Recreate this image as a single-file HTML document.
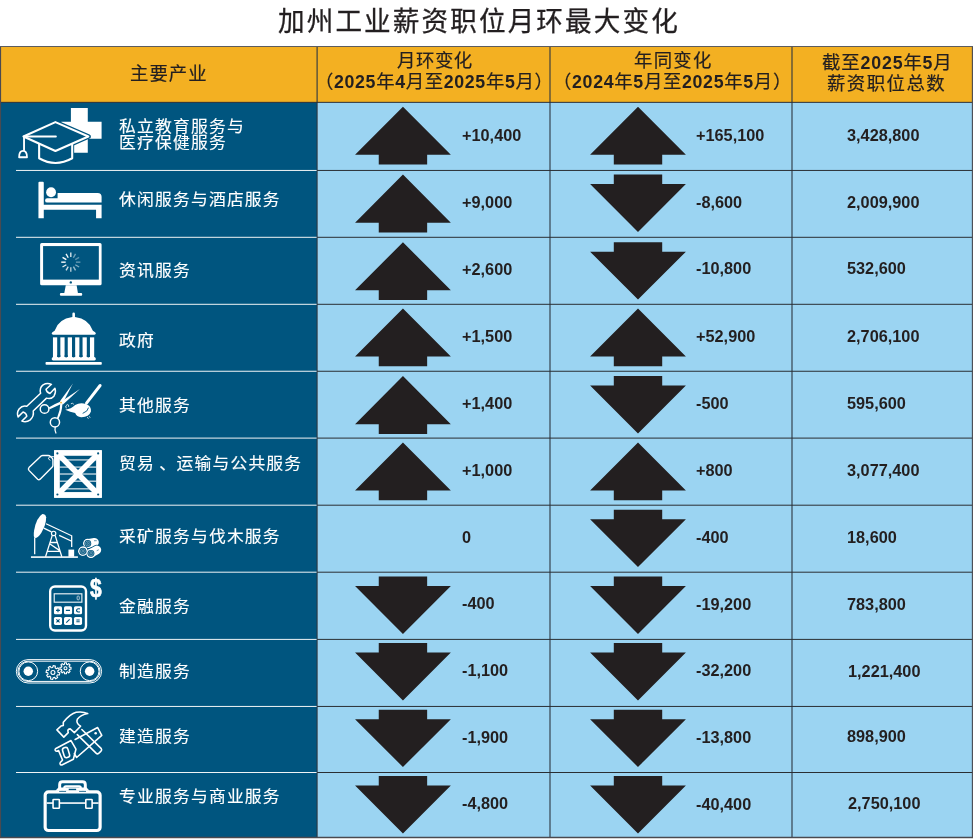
<!DOCTYPE html>
<html lang="zh-CN"><head><meta charset="utf-8"><title>加州工业薪资职位月环最大变化</title>
<style>
html,body{margin:0;padding:0;background:#fff;}
body{width:973px;height:839px;position:relative;overflow:hidden;font-family:"Liberation Sans","Noto Sans CJK SC",sans-serif;color:#231F20;}
#bg{position:absolute;left:0;top:0;width:973px;height:839px;}
.t{position:absolute;white-space:nowrap;line-height:1;margin:0;padding:0;transform-origin:0 0;transform:rotate(0.001deg);}
h1.t{font-weight:400;font-size:28.6px;-webkit-text-stroke:0.3px #231F20;}
.h{font-size:18.4px;font-weight:400;-webkit-text-stroke:0.2px #231F20;}
.h b{font-size:17.8px;font-weight:700;-webkit-text-stroke:0;}
.lab{color:#fff;font-size:16.8px;font-weight:400;-webkit-text-stroke:0.15px #fff;}.lab i{font-style:normal;letter-spacing:4.7px;position:relative;left:4.2px;}
.num{font-weight:700;font-size:16.3px;}
</style></head><body>

<svg id="bg" width="973" height="839" viewBox="0 0 973 839">
<rect x="0" y="46.5" width="973" height="55.849999999999994" fill="#F3B022"/>
<rect x="0" y="102.35" width="317.1" height="735.05" fill="#00557F"/>
<rect x="317.1" y="102.35" width="655.9" height="735.05" fill="#9BD4F2"/>
<g stroke="#2c3640" stroke-width="1.1" fill="none">
<line x1="317.1" y1="46.5" x2="317.1" y2="837.4"/>
<line x1="550.0" y1="46.5" x2="550.0" y2="837.4"/>
<line x1="792.0" y1="46.5" x2="792.0" y2="837.4"/>
</g>
<g stroke="#2a2e33" stroke-width="1.0" fill="none">
<line x1="0" y1="102.35" x2="973" y2="102.35"/>
<line x1="317.1" y1="170.45" x2="973" y2="170.45"/>
<line x1="317.1" y1="237.3" x2="973" y2="237.3"/>
<line x1="317.1" y1="304.3" x2="973" y2="304.3"/>
<line x1="317.1" y1="371.25" x2="973" y2="371.25"/>
<line x1="317.1" y1="438.1" x2="973" y2="438.1"/>
<line x1="317.1" y1="505.2" x2="973" y2="505.2"/>
<line x1="317.1" y1="572.2" x2="973" y2="572.2"/>
<line x1="317.1" y1="639.4" x2="973" y2="639.4"/>
<line x1="317.1" y1="706.45" x2="973" y2="706.45"/>
<line x1="317.1" y1="772.5" x2="973" y2="772.5"/>
</g>
<g stroke="#f0f4f6" stroke-width="1.0" fill="none">
<line x1="16" y1="170.45" x2="316.6" y2="170.45"/>
<line x1="16" y1="237.3" x2="316.6" y2="237.3"/>
<line x1="16" y1="304.3" x2="316.6" y2="304.3"/>
<line x1="16" y1="371.25" x2="316.6" y2="371.25"/>
<line x1="16" y1="438.1" x2="316.6" y2="438.1"/>
<line x1="16" y1="505.2" x2="316.6" y2="505.2"/>
<line x1="16" y1="572.2" x2="316.6" y2="572.2"/>
<line x1="16" y1="639.4" x2="316.6" y2="639.4"/>
<line x1="16" y1="706.45" x2="316.6" y2="706.45"/>
<line x1="16" y1="772.5" x2="316.6" y2="772.5"/>
</g>
<g stroke="#4a4a50" stroke-width="1.1" fill="none"><path d="M0.55,46.5V837.4M972.4,46.5V837.4M0,837.4H973"/><path stroke="#5c5c5e" stroke-width="1" d="M0,46.5H973"/><path stroke="#d4d4d4" stroke-width="1" d="M0,838.5H973"/></g>
<g fill="#231F20">
<polygon points="402.95,106.70 450.85,154.80 427.15,154.80 427.15,164.60 378.75,164.60 378.75,154.80 355.05,154.80"/>
<polygon points="638.00,106.70 685.90,154.80 662.20,154.80 662.20,164.60 613.80,164.60 613.80,154.80 590.10,154.80"/>
<polygon points="402.95,174.60 450.85,222.70 427.15,222.70 427.15,232.50 378.75,232.50 378.75,222.70 355.05,222.70"/>
<polygon points="613.80,174.60 662.20,174.60 662.20,184.10 685.90,184.10 638.00,231.90 590.10,184.10 613.80,184.10"/>
<polygon points="402.95,242.20 450.85,290.30 427.15,290.30 427.15,300.10 378.75,300.10 378.75,290.30 355.05,290.30"/>
<polygon points="613.80,242.20 662.20,242.20 662.20,251.70 685.90,251.70 638.00,299.50 590.10,251.70 613.80,251.70"/>
<polygon points="402.95,308.40 450.85,356.50 427.15,356.50 427.15,366.30 378.75,366.30 378.75,356.50 355.05,356.50"/>
<polygon points="638.00,308.40 685.90,356.50 662.20,356.50 662.20,366.30 613.80,366.30 613.80,356.50 590.10,356.50"/>
<polygon points="402.95,376.10 450.85,424.20 427.15,424.20 427.15,434.00 378.75,434.00 378.75,424.20 355.05,424.20"/>
<polygon points="613.80,376.10 662.20,376.10 662.20,385.60 685.90,385.60 638.00,433.40 590.10,385.60 613.80,385.60"/>
<polygon points="402.95,442.40 450.85,490.50 427.15,490.50 427.15,500.30 378.75,500.30 378.75,490.50 355.05,490.50"/>
<polygon points="638.00,442.40 685.90,490.50 662.20,490.50 662.20,500.30 613.80,500.30 613.80,490.50 590.10,490.50"/>
<polygon points="613.80,509.80 662.20,509.80 662.20,519.30 685.90,519.30 638.00,567.10 590.10,519.30 613.80,519.30"/>
<polygon points="378.75,576.60 427.15,576.60 427.15,586.10 450.85,586.10 402.95,633.90 355.05,586.10 378.75,586.10"/>
<polygon points="613.80,576.60 662.20,576.60 662.20,586.10 685.90,586.10 638.00,633.90 590.10,586.10 613.80,586.10"/>
<polygon points="378.75,643.10 427.15,643.10 427.15,652.60 450.85,652.60 402.95,700.40 355.05,652.60 378.75,652.60"/>
<polygon points="613.80,643.10 662.20,643.10 662.20,652.60 685.90,652.60 638.00,700.40 590.10,652.60 613.80,652.60"/>
<polygon points="378.75,709.70 427.15,709.70 427.15,719.20 450.85,719.20 402.95,767.00 355.05,719.20 378.75,719.20"/>
<polygon points="613.80,709.70 662.20,709.70 662.20,719.20 685.90,719.20 638.00,767.00 590.10,719.20 613.80,719.20"/>
<polygon points="378.75,776.10 427.15,776.10 427.15,785.60 450.85,785.60 402.95,833.40 355.05,785.60 378.75,785.60"/>
<polygon points="613.80,776.10 662.20,776.10 662.20,785.60 685.90,785.60 638.00,833.40 590.10,785.60 613.80,785.60"/>
</g>
<g transform="translate(12,102) scale(0.09867)"><path fill="#fff" d="M597,60H768V200H908V372H768V515H628V372H500V200H597Z"/><path fill="#00557F" stroke="#00557F" stroke-width="44" stroke-linejoin="round" d="M112,350L440,203L778,350L440,498Z"/><path fill="#00557F" stroke="#00557F" stroke-width="40" d="M275,430V570Q440,665 610,570V430"/><path fill="#00557F" stroke="#fff" stroke-width="21" stroke-linejoin="round" d="M275,425V570Q440,665 610,570V425"/><path fill="#00557F" stroke="#fff" stroke-width="21" stroke-linejoin="round" d="M116,350L440,204L774,350L440,497Z"/><path fill="none" stroke="#fff" stroke-width="19" stroke-linecap="round" d="M122,350H445M122,352V490"/><path fill="#00557F" stroke="#fff" stroke-width="18" stroke-linejoin="round" d="M72,560Q72,495 112,495Q152,495 152,560Z"/></g>
<g transform="translate(12,170) scale(0.09867)"><path fill="#fff" d="M268,128Q268,118 278,118H312Q322,118 322,128V352H908V488H852V404H322V488H268Z"/><circle cx="396" cy="226" r="50" fill="#fff"/><path fill="#fff" d="M462,232H868Q908,232 908,272V330H357Q335,330 335,308Q335,287 357,287H462Z"/></g>
<g transform="translate(12,237) scale(0.09867)"><rect x="285" y="62" width="623" height="428" rx="16" fill="#fff"/><rect x="315" y="92" width="565" height="340" fill="#00557F"/><circle cx="596" cy="460" r="12" fill="#00557F"/><path fill="#fff" d="M545,488H655L668,568H700Q712,568 712,582Q712,596 700,596H497Q485,596 485,582Q485,568 497,568H530Z"/><line x1="596" y1="203" x2="596" y2="158" stroke="#fff" stroke-opacity="0.85" stroke-width="14"/><line x1="622" y1="210" x2="644" y2="171" stroke="#fff" stroke-opacity="0.45" stroke-width="14"/><line x1="641" y1="229" x2="680" y2="206" stroke="#fff" stroke-opacity="0.35" stroke-width="14"/><line x1="648" y1="255" x2="693" y2="255" stroke="#fff" stroke-opacity="0.4" stroke-width="14"/><line x1="641" y1="281" x2="680" y2="304" stroke="#fff" stroke-opacity="0.5" stroke-width="14"/><line x1="622" y1="300" x2="644" y2="339" stroke="#fff" stroke-opacity="0.6" stroke-width="14"/><line x1="596" y1="307" x2="596" y2="352" stroke="#fff" stroke-opacity="0.7" stroke-width="14"/><line x1="570" y1="300" x2="548" y2="339" stroke="#fff" stroke-opacity="0.8" stroke-width="14"/><line x1="551" y1="281" x2="512" y2="304" stroke="#fff" stroke-opacity="0.9" stroke-width="14"/><line x1="544" y1="255" x2="499" y2="255" stroke="#fff" stroke-opacity="1" stroke-width="14"/><line x1="551" y1="229" x2="512" y2="206" stroke="#fff" stroke-opacity="1" stroke-width="14"/><line x1="570" y1="210" x2="548" y2="171" stroke="#fff" stroke-opacity="0.95" stroke-width="14"/></g>
<g transform="translate(12,304) scale(0.09867)"><path fill="#fff" d="M612,98Q612,85 625,85Q638,85 638,98V131Q780,150 820,270Q850,285 850,297Q850,312 835,312H417Q402,312 402,297Q402,285 432,270Q470,150 612,131Z"/><rect x="415" y="338" width="43" height="215" fill="#fff"/><rect x="490" y="338" width="43" height="215" fill="#fff"/><rect x="565" y="338" width="43" height="215" fill="#fff"/><rect x="640" y="338" width="43" height="215" fill="#fff"/><rect x="715" y="338" width="43" height="215" fill="#fff"/><rect x="790" y="338" width="43" height="215" fill="#fff"/><path fill="#fff" d="M417,538H835Q850,545 850,558Q850,572 835,572H417Q402,572 402,558Q402,545 417,538Z"/><path fill="#00557F" d="M458,520V532Q474,552 490,532V520Z"/><path fill="#00557F" d="M533,520V532Q549,552 565,532V520Z"/><path fill="#00557F" d="M608,520V532Q624,552 640,532V520Z"/><path fill="#00557F" d="M683,520V532Q699,552 715,532V520Z"/><path fill="#00557F" d="M758,520V532Q774,552 790,532V520Z"/><rect x="340" y="588" width="570" height="28" rx="8" fill="#fff"/></g>
<g transform="translate(12,371) scale(0.09867)"><path fill="none" stroke="#fff" stroke-width="15" stroke-linejoin="round" stroke-linecap="round" d="M290,225 Q275,170 315,140 Q355,118 400,135 L345,185 Q350,215 385,228 L435,175 Q450,215 425,255 Q395,290 350,275 L215,405 Q225,460 185,495 Q145,525 100,508 L150,458 Q145,425 112,415 L62,465 Q45,425 72,385 Q105,345 150,358 Z"/><path fill="#fff" d="M484,308L617,126L514,328Z"/><path fill="#fff" d="M496,312L688,183L514,342Z"/><path fill="#fff" d="M494,308L510,330L382,388L372,370Q430,332 494,308Z"/><path fill="#fff" d="M490,322L512,326Q506,420 472,484L456,476Q490,400 490,322Z"/><circle cx="497" cy="320" r="9" fill="#F3B022"/><path fill="none" stroke="#fff" stroke-width="13" stroke-linecap="round" d="M438,570Q430,600 445,628"/><circle cx="330" cy="385" r="44" fill="none" stroke="#fff" stroke-width="15"/><circle cx="435" cy="520" r="47" fill="none" stroke="#fff" stroke-width="15"/><path fill="none" stroke="#fff" stroke-width="30" stroke-linecap="round" d="M893,147L755,325"/><path fill="#fff" d="M540,392Q600,385 640,345Q690,315 750,335Q805,355 800,410Q780,470 700,468Q655,462 640,425Q590,415 540,392Z"/><path fill="none" stroke="#00557F" stroke-width="9" stroke-linecap="round" d="M775,375Q770,410 720,428"/><path fill="none" stroke="#fff" stroke-width="8" stroke-linecap="round" d="M548,375Q535,350 560,340Q580,340 575,360M600,330Q615,320 625,335M765,470L772,480M785,462L790,470"/></g>
<g transform="translate(12,438) scale(0.09867)"><rect x="427" y="124" width="483" height="482" fill="#fff"/><rect x="482" y="178" width="373" height="372" fill="#00557F"/><rect x="482" y="215" width="373" height="14" fill="#fff" fill-opacity="0.75"/><rect x="482" y="288" width="373" height="14" fill="#fff" fill-opacity="0.75"/><rect x="482" y="358" width="373" height="14" fill="#fff" fill-opacity="0.75"/><rect x="482" y="431" width="373" height="14" fill="#fff" fill-opacity="0.75"/><rect x="482" y="508" width="373" height="14" fill="#fff" fill-opacity="0.75"/><path stroke="#fff" stroke-width="56" fill="none" d="M470,165L868,565M868,165L470,565"/><path fill="#fff" d="M427,124H482V606H427ZM855,124H910V606H855ZM427,124H910V178H427ZM427,550H910V606H427Z"/><circle cx="460" cy="156" r="11" fill="#00557F"/><circle cx="873" cy="156" r="11" fill="#00557F"/><circle cx="460" cy="573" r="11" fill="#00557F"/><circle cx="873" cy="573" r="11" fill="#00557F"/><path fill="none" stroke="#fff" stroke-width="14" stroke-linejoin="round" d="M172,300L295,183Q302,177 312,177H368Q380,177 390,187L408,205Q415,213 415,225V275Q415,287 408,294L285,417Q272,428 260,417L172,328Q160,314 172,300Z"/><path fill="none" stroke="#fff" stroke-width="9" stroke-linecap="round" d="M385,225Q355,210 375,195Q395,180 427,190"/></g>
<g transform="translate(12,505) scale(0.09867)"><path fill="#fff" d="M308,92Q340,92 346,125Q348,195 298,280Q262,336 233,335Q214,322 224,258Q248,128 308,92Z"/><path fill="none" stroke="#fff" stroke-width="13" d="M230,330V500"/><path fill="none" stroke="#fff" stroke-width="13" stroke-linejoin="miter" d="M345,190L605,312V425M322,235L400,272M478,308L600,365"/><circle cx="422" cy="288" r="22" fill="#00557F" stroke="#fff" stroke-width="12"/><path fill="none" stroke="#fff" stroke-width="13" d="M408,308L340,525M437,308L505,525M388,380H458M362,470H490M385,395L488,465"/><rect x="192" y="520" width="476" height="16" fill="#fff"/><rect x="572" y="452" width="58" height="73" fill="#fff"/><path stroke="#00557F" stroke-width="104" stroke-linecap="round" fill="none" d="M768,390L836,378"/><path stroke="#fff" stroke-width="88" stroke-linecap="round" fill="none" d="M768,390L836,378"/><circle cx="768" cy="390" r="47" fill="#fff"/><circle cx="768" cy="390" r="35" fill="#00557F"/><circle cx="768" cy="390" r="24" fill="none" stroke="#fff" stroke-opacity="0.5" stroke-width="7"/><circle cx="768" cy="390" r="9" fill="none" stroke="#fff" stroke-opacity="0.5" stroke-width="7"/><path stroke="#00557F" stroke-width="104" stroke-linecap="round" fill="none" d="M718,468L724,465"/><path stroke="#fff" stroke-width="88" stroke-linecap="round" fill="none" d="M718,468L724,465"/><circle cx="718" cy="468" r="47" fill="#fff"/><circle cx="718" cy="468" r="35" fill="#00557F"/><circle cx="718" cy="468" r="24" fill="none" stroke="#fff" stroke-opacity="0.5" stroke-width="7"/><circle cx="718" cy="468" r="9" fill="none" stroke="#fff" stroke-opacity="0.5" stroke-width="7"/><path stroke="#00557F" stroke-width="104" stroke-linecap="round" fill="none" d="M800,490L860,455"/><path stroke="#fff" stroke-width="88" stroke-linecap="round" fill="none" d="M800,490L860,455"/><circle cx="800" cy="490" r="47" fill="#fff"/><circle cx="800" cy="490" r="35" fill="#00557F"/><circle cx="800" cy="490" r="24" fill="none" stroke="#fff" stroke-opacity="0.5" stroke-width="7"/><circle cx="800" cy="490" r="9" fill="none" stroke="#fff" stroke-opacity="0.5" stroke-width="7"/><path stroke="#00557F" stroke-width="6" stroke-linecap="round" fill="none" d="M835,362H855M862,462L876,455"/></g>
<g transform="translate(12,572) scale(0.09867)"><rect x="387" y="147" width="363" height="446" rx="48" fill="none" stroke="#fff" stroke-width="24"/><rect x="428" y="221" width="280" height="85" fill="none" stroke="#fff" stroke-width="12" stroke-opacity="0.9"/><rect x="660" y="244" width="22" height="38" rx="8" fill="none" stroke="#fff" stroke-width="8" stroke-opacity="0.8"/><rect x="425" y="348" width="82" height="81" rx="16" fill="#fff"/><rect x="527" y="348" width="82" height="81" rx="16" fill="#fff"/><rect x="628" y="348" width="82" height="81" rx="16" fill="#fff"/><rect x="425" y="455" width="82" height="81" rx="16" fill="#fff"/><rect x="527" y="455" width="82" height="81" rx="16" fill="#fff"/><rect x="628" y="455" width="82" height="81" rx="16" fill="#fff"/><path stroke="#00557F" stroke-width="11" fill="none" d="M466,369V409M446,389H486M546,389H588M688,374Q657,368 654,389Q657,410 688,404M450,479L482,511M482,479L450,511M550,513L584,479M652,487H686M652,504H686"/><text x="850" y="256" text-anchor="middle" font-family="Liberation Sans,sans-serif" font-weight="700" font-size="266" fill="#fff" stroke="#fff" stroke-width="7" textLength="118" lengthAdjust="spacingAndGlyphs">$</text></g>
<g transform="translate(12,639) scale(0.09867)"><rect x="44" y="209" width="864" height="237" rx="118.5" fill="none" stroke="#fff" stroke-width="10"/><rect x="60" y="225" width="832" height="205" rx="102.5" fill="none" stroke="#fff" stroke-width="10"/><circle cx="165" cy="327" r="95" fill="none" stroke="#fff" stroke-width="10"/><circle cx="165" cy="327" r="48" fill="#fff"/><circle cx="787" cy="327" r="95" fill="none" stroke="#fff" stroke-width="10"/><circle cx="787" cy="327" r="48" fill="#fff"/><path d="M485,342L480,365L462,362L453,375L463,391L443,404L433,389L417,392L413,410L390,405L393,387L380,378L364,388L351,368L366,358L363,342L345,338L350,315L368,318L377,305L367,289L387,276L397,291L413,288L417,270L440,275L437,293L450,302L466,292L479,312L464,322L467,338Z" fill="none" stroke="#fff" stroke-width="11" stroke-linejoin="round"/><circle cx="415" cy="340" r="20" fill="none" stroke="#fff" stroke-width="11"/><path d="M598,286L598,306L583,306L578,318L589,329L575,343L564,332L552,337L552,352L532,352L532,337L520,332L509,343L495,329L506,318L501,306L486,306L486,286L501,286L506,274L495,263L509,249L520,260L532,255L532,240L552,240L552,255L564,260L575,249L589,263L578,274L583,286Z" fill="none" stroke="#fff" stroke-width="11" stroke-linejoin="round"/><circle cx="542" cy="296" r="15" fill="none" stroke="#fff" stroke-width="11"/></g>
<g transform="translate(12,706) scale(0.09867)"><path fill="none" stroke="#fff" stroke-width="16" stroke-linejoin="round" stroke-linecap="round" d="M455,242L497,203L520,197V165Q590,80 650,64Q715,52 768,77Q695,92 662,135Q645,170 695,205L632,270L590,232Q568,232 566,252L570,270L525,315Z"/><path fill="none" stroke="#fff" stroke-width="16" stroke-linejoin="round" stroke-linecap="round" d="M708,238L905,432Q915,445 900,460L878,480Q865,490 852,478L662,290"/><path fill="none" stroke="#fff" stroke-width="16" stroke-linejoin="round" stroke-linecap="round" d="M445,430L598,350L648,438L622,540L505,598Q490,600 487,585Q485,572 500,562L512,548L472,452L455,458Q440,460 437,447Q435,437 445,430Z"/><rect x="-28" y="-52" width="56" height="104" rx="24" transform="translate(548,472) rotate(-17)" fill="none" stroke="#fff" stroke-width="16" stroke-linejoin="round" stroke-linecap="round"/><path fill="none" stroke="#fff" stroke-width="16" stroke-linejoin="round" stroke-linecap="round" d="M640,340L868,218L910,297L655,522L632,482"/><circle cx="848" cy="276" r="13" fill="#fff"/></g>
<g transform="translate(12,771) scale(0.09867)"><rect x="336" y="211" width="557" height="392" rx="34" fill="none" stroke="#fff" stroke-width="32"/><path fill="none" stroke="#fff" stroke-width="30" stroke-linejoin="round" d="M483,200V140Q483,110 513,110H713Q743,110 743,140V200"/><path fill="#fff" d="M440,200L470,168H756L786,200Z"/><path fill="none" stroke="#fff" stroke-width="22" stroke-linejoin="round" d="M530,200V172Q530,155 547,155H680Q697,155 697,172V200"/><rect x="575" y="180" width="75" height="14" fill="#00557F"/><rect x="478" y="202" width="70" height="8" fill="#00557F"/><rect x="680" y="202" width="70" height="8" fill="#00557F"/><rect x="352" y="317" width="526" height="16" fill="#fff"/><rect x="416" y="288" width="64" height="90" rx="6" fill="#00557F" stroke="#fff" stroke-width="16"/><rect x="748" y="288" width="64" height="90" rx="6" fill="#00557F" stroke="#fff" stroke-width="16"/></g>
</svg>
<h1 class="t" style="left:278.20px;top:8.10px;letter-spacing:2.27px;transform:scale(0.93,0.95) rotate(0.001deg);">加州工业薪资职位月环最大变化</h1>
<div class="t h" style="left:130.32px;top:64.74px;letter-spacing:1.04px;">主要产业</div>
<div class="t h" style="left:396.58px;top:52.32px;letter-spacing:0.56px;">月环变化</div>
<div class="t h" style="left:315.44px;top:73.36px;letter-spacing:0.64px;">（<b>2025</b>年<b>4</b>月至<b>2025</b>年<b>5</b>月）</div>
<div class="t h" style="left:633.66px;top:52.32px;letter-spacing:1.25px;">年同变化</div>
<div class="t h" style="left:552.80px;top:73.36px;letter-spacing:0.66px;">（<b>2024</b>年<b>5</b>月至<b>2025</b>年<b>5</b>月）</div>
<div class="t h" style="left:821.54px;top:53.86px;letter-spacing:0.84px;">截至<b>2025</b>年<b>5</b>月</div>
<div class="t h" style="left:827.22px;top:74.90px;letter-spacing:1.47px;">薪资职位总数</div>
<div class="t lab" style="left:118.80px;top:119.18px;letter-spacing:1.20px;transform:scale(1,0.94) rotate(0.001deg);transform-origin:0 50%;">私立教育服务与</div>
<div class="t lab" style="left:118.80px;top:191.96px;letter-spacing:1.20px;transform:scale(1,0.94) rotate(0.001deg);transform-origin:0 50%;">休闲服务与酒店服务</div>
<div class="t lab" style="left:118.80px;top:262.64px;letter-spacing:1.20px;transform:scale(1,0.94) rotate(0.001deg);transform-origin:0 50%;">资讯服务</div>
<div class="t lab" style="left:118.80px;top:333.36px;letter-spacing:1.20px;transform:scale(1,0.94) rotate(0.001deg);transform-origin:0 50%;">政府</div>
<div class="t lab" style="left:118.80px;top:398.18px;letter-spacing:1.20px;transform:scale(1,0.94) rotate(0.001deg);transform-origin:0 50%;">其他服务</div>
<div class="t lab" style="left:118.80px;top:456.36px;letter-spacing:1.20px;transform:scale(1,0.94) rotate(0.001deg);transform-origin:0 50%;">贸易<i>、</i>运输与公共服务</div>
<div class="t lab" style="left:118.80px;top:528.92px;letter-spacing:1.20px;transform:scale(1,0.94) rotate(0.001deg);transform-origin:0 50%;">采矿服务与伐木服务</div>
<div class="t lab" style="left:118.80px;top:599.14px;letter-spacing:1.20px;transform:scale(1,0.94) rotate(0.001deg);transform-origin:0 50%;">金融服务</div>
<div class="t lab" style="left:118.80px;top:663.86px;letter-spacing:1.20px;transform:scale(1,0.94) rotate(0.001deg);transform-origin:0 50%;">制造服务</div>
<div class="t lab" style="left:118.80px;top:728.80px;letter-spacing:1.20px;transform:scale(1,0.94) rotate(0.001deg);transform-origin:0 50%;">建造服务</div>
<div class="t lab" style="left:118.80px;top:789.42px;letter-spacing:1.20px;transform:scale(1,0.94) rotate(0.001deg);transform-origin:0 50%;">专业服务与商业服务</div>
<div class="t lab" style="left:118.80px;top:134.92px;letter-spacing:1.20px;transform:scale(1,0.94) rotate(0.001deg);transform-origin:0 50%;">医疗保健服务</div>
<div class="t num" style="left:462.00px;top:126.96px;letter-spacing:0.00px;">+10,400</div>
<div class="t num" style="left:695.70px;top:126.96px;letter-spacing:0.00px;">+165,100</div>
<div class="t num" style="left:847.30px;top:126.96px;letter-spacing:0.00px;">3,428,800</div>
<div class="t num" style="left:462.00px;top:193.76px;letter-spacing:0.00px;">+9,000</div>
<div class="t num" style="left:695.70px;top:193.76px;letter-spacing:0.00px;">-8,600</div>
<div class="t num" style="left:847.30px;top:193.76px;letter-spacing:0.00px;">2,009,900</div>
<div class="t num" style="left:462.00px;top:260.61px;letter-spacing:0.00px;">+2,600</div>
<div class="t num" style="left:695.70px;top:260.31px;letter-spacing:0.00px;">-10,800</div>
<div class="t num" style="left:847.30px;top:260.31px;letter-spacing:0.00px;">532,600</div>
<div class="t num" style="left:462.00px;top:327.91px;letter-spacing:0.00px;">+1,500</div>
<div class="t num" style="left:695.70px;top:327.91px;letter-spacing:0.00px;">+52,900</div>
<div class="t num" style="left:847.30px;top:327.91px;letter-spacing:0.00px;">2,706,100</div>
<div class="t num" style="left:462.00px;top:394.71px;letter-spacing:0.00px;">+1,400</div>
<div class="t num" style="left:695.70px;top:394.71px;letter-spacing:0.00px;">-500</div>
<div class="t num" style="left:847.30px;top:394.71px;letter-spacing:0.00px;">595,600</div>
<div class="t num" style="left:462.00px;top:461.91px;letter-spacing:0.00px;">+1,000</div>
<div class="t num" style="left:695.70px;top:461.91px;letter-spacing:0.00px;">+800</div>
<div class="t num" style="left:847.30px;top:461.91px;letter-spacing:0.00px;">3,077,400</div>
<div class="t num" style="left:462.00px;top:528.71px;letter-spacing:0.00px;">0</div>
<div class="t num" style="left:695.70px;top:528.71px;letter-spacing:0.00px;">-400</div>
<div class="t num" style="left:847.30px;top:528.71px;letter-spacing:0.00px;">18,600</div>
<div class="t num" style="left:462.00px;top:594.81px;letter-spacing:0.00px;">-400</div>
<div class="t num" style="left:695.70px;top:595.91px;letter-spacing:0.00px;">-19,200</div>
<div class="t num" style="left:847.30px;top:595.91px;letter-spacing:0.00px;">783,800</div>
<div class="t num" style="left:462.00px;top:662.41px;letter-spacing:0.00px;">-1,100</div>
<div class="t num" style="left:695.70px;top:662.41px;letter-spacing:0.00px;">-32,200</div>
<div class="t num" style="left:848.30px;top:662.91px;letter-spacing:0.00px;">1,221,400</div>
<div class="t num" style="left:462.00px;top:729.31px;letter-spacing:0.00px;">-1,900</div>
<div class="t num" style="left:695.70px;top:729.31px;letter-spacing:0.00px;">-13,800</div>
<div class="t num" style="left:847.30px;top:728.41px;letter-spacing:0.00px;">898,900</div>
<div class="t num" style="left:462.00px;top:795.11px;letter-spacing:0.00px;">-4,800</div>
<div class="t num" style="left:695.70px;top:795.61px;letter-spacing:0.00px;">-40,400</div>
<div class="t num" style="left:848.20px;top:794.71px;letter-spacing:0.00px;">2,750,100</div>
</body></html>
